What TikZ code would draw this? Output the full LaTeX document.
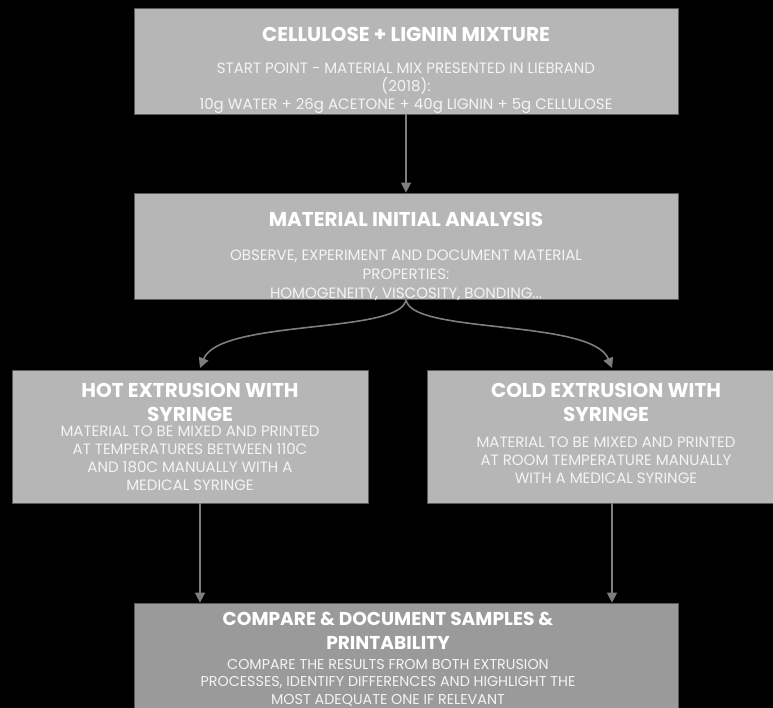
\documentclass[tikz,border=0pt]{standalone}
\usepackage{fontspec}
\setmainfont{Poppins}
\usetikzlibrary{arrows.meta}
\definecolor{boxgray}{HTML}{B5B6B5}
\definecolor{boxdark}{HTML}{9A9A9A}
\definecolor{edgegray}{HTML}{5A5A5A}
\definecolor{arrowgray}{HTML}{7E7E7E}
\definecolor{bodytext}{HTML}{F4F4F4}
\tikzset{
  box/.style={draw=edgegray, line width=0.8pt, fill=boxgray, inner sep=0pt},
  boxlast/.style={box, fill=boxdark},
  ttl/.style={text=white, font=\fontsize{20}{24}\selectfont\bfseries, align=center, inner sep=0pt},
  bdy/.style={text=bodytext, font=\fontsize{15}{18}\selectfont, align=center, inner sep=0pt},
  conn/.style={draw=arrowgray, line width=1.6pt, -{Triangle[length=10pt,width=10pt]}},
}
\begin{document}
\begin{tikzpicture}[x=1pt,y=-1pt]
\useasboundingbox[fill=black] (0,0) rectangle (773,708);
\begin{scope}
\clip (0,0) rectangle (773,708);
% boxes
\node[box, minimum width=544pt, minimum height=106pt] (b1) at (406,61) {};
\node[box, minimum width=544pt, minimum height=106pt] (b2) at (406,246) {};
\node[box, minimum width=356pt, minimum height=133pt] (b3) at (190,436.5) {};
\node[box, minimum width=356pt, minimum height=133pt] (b4) at (605,436.5) {};
\node[boxlast, minimum width=544pt, minimum height=120pt] (b5) at (406,663) {};
\end{scope}
% texts
\node[ttl] (t1) at (406,34) {CELLULOSE + LIGNIN MIXTURE};
\node[bdy, anchor=north] (d1) at (406,63) {START POINT - MATERIAL MIX PRESENTED IN LIEBRAND\\(2018):\\10g WATER + 26g ACETONE + 40g LIGNIN + 5g CELLULOSE};
\node[ttl] (t2) at (406,219) {MATERIAL INITIAL ANALYSIS};
\node[bdy, anchor=north, font=\fontsize{15}{18.8}\selectfont] (d2) at (406,250) {OBSERVE, EXPERIMENT AND DOCUMENT MATERIAL\\PROPERTIES:\\HOMOGENEITY, VISCOSITY, BONDING...};
\node[ttl, anchor=north] (t3) at (190,383) {HOT EXTRUSION WITH\\SYRINGE};
\node[bdy, anchor=north] (d3) at (190,426) {MATERIAL TO BE MIXED AND PRINTED\\AT TEMPERATURES BETWEEN 110C\\AND 180C MANUALLY WITH A\\MEDICAL SYRINGE};
\node[ttl, anchor=north] (t4) at (606,383) {COLD EXTRUSION WITH\\SYRINGE};
\node[bdy, anchor=north] (d4) at (606,437) {MATERIAL TO BE MIXED AND PRINTED\\AT ROOM TEMPERATURE MANUALLY\\WITH A MEDICAL SYRINGE};
\node[ttl, anchor=north, font=\fontsize{18.6}{24}\selectfont\bfseries] (t5) at (388,612) {COMPARE \& DOCUMENT SAMPLES \&\\PRINTABILITY};
\node[bdy, anchor=north, font=\fontsize{14.3}{17.5}\selectfont] (d5) at (388,659) {COMPARE THE RESULTS FROM BOTH EXTRUSION\\PROCESSES, IDENTIFY DIFFERENCES AND HIGHLIGHT THE\\MOST ADEQUATE ONE IF RELEVANT};
% connectors
\coordinate (s2) at ([yshift=1pt]b2.south);
\coordinate (e3) at (200,368);
\coordinate (e4) at (612,368);
\draw[conn] (b1.south) -- (b2.north);
\draw[conn] (s2) .. controls (406,335) and (220,318) .. (e3);
\draw[conn] (s2) .. controls (406,335) and (592,318) .. (e4);
\draw[conn] (b3.south -| e3) -- (b5.north -| e3);
\draw[conn] (b4.south -| e4) -- (b5.north -| e4);
\end{tikzpicture}
\end{document}
